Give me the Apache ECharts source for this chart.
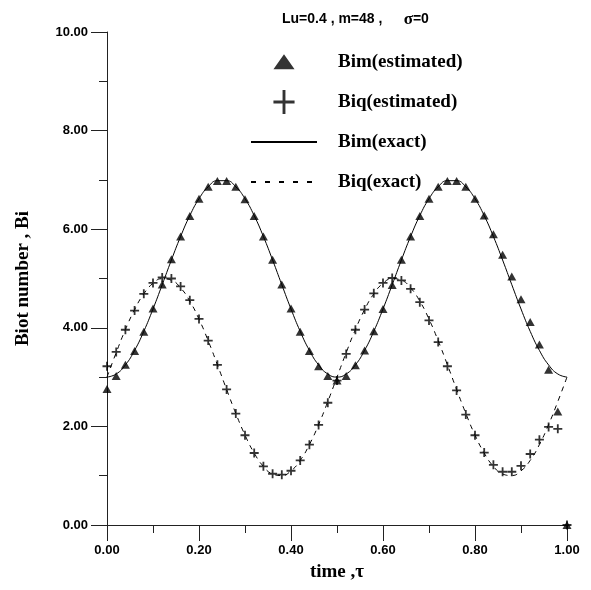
<!DOCTYPE html>
<html>
<head>
<meta charset="utf-8">
<script src="https://cdn.jsdelivr.net/npm/echarts@6/dist/echarts.min.js"></script>
<style>
  html, body { margin: 0; padding: 0; background: #fff; }
  #chart { width: 591px; height: 590px; }
</style>
</head>
<body>
<div id="chart"></div>
<script>
const chartDom = document.getElementById("chart");
let myChart = echarts.init(chartDom);

/** time steps */
const timeVals = [0.00, 0.02, 0.04, 0.06, 0.08, 0.10, 0.12, 0.14, 0.16, 0.18,
  0.20, 0.22, 0.24, 0.26, 0.28, 0.30, 0.32, 0.34, 0.36, 0.38,
  0.40, 0.42, 0.44, 0.46, 0.48, 0.50, 0.52, 0.54, 0.56, 0.58,
  0.60, 0.62, 0.64, 0.66, 0.68, 0.70, 0.72, 0.74, 0.76, 0.78,
  0.80, 0.82, 0.84, 0.86, 0.88, 0.90, 0.92, 0.94, 0.96, 0.98, 1.00];

/** exact curves */
const bimExact = [3.000, 3.063, 3.247, 3.542, 3.928, 4.382, 4.874, 5.375, 5.852, 6.275,
  6.618, 6.860, 6.984, 6.984, 6.860, 6.618, 6.275, 5.852, 5.375, 4.874,
  4.382, 3.928, 3.542, 3.247, 3.063, 3.000, 3.063, 3.247, 3.542, 3.928,
  4.382, 4.874, 5.375, 5.852, 6.275, 6.618, 6.860, 6.984, 6.984, 6.860,
  6.618, 6.275, 5.852, 5.375, 4.874, 4.382, 3.928, 3.542, 3.247, 3.063, 3.000];

const biqExact = [3.000, 3.497, 3.964, 4.369, 4.689, 4.902, 4.996, 4.965, 4.810, 4.541,
  4.176, 3.736, 3.251, 2.749, 2.264, 1.824, 1.459, 1.190, 1.035, 1.004,
  1.098, 1.311, 1.631, 2.036, 2.503, 3.000, 3.497, 3.964, 4.369, 4.689,
  4.902, 4.996, 4.965, 4.810, 4.541, 4.176, 3.736, 3.251, 2.749, 2.264,
  1.824, 1.459, 1.190, 1.035, 1.004, 1.098, 1.311, 1.631, 2.036, 2.503, 3.000];

/** estimated values */
const bimEst = [2.76, 3.02, 3.25, 3.53, 3.92, 4.39, 4.88, 5.39, 5.85, 6.27,
  6.62, 6.86, 6.98, 6.98, 6.86, 6.61, 6.27, 5.85, 5.38, 4.88,
  4.39, 3.92, 3.53, 3.22, 3.02, 2.93, 3.02, 3.24, 3.54, 3.93,
  4.38, 4.87, 5.38, 5.85, 6.27, 6.62, 6.86, 6.98, 6.98, 6.86,
  6.62, 6.28, 5.90, 5.48, 5.04, 4.58, 4.12, 3.66, 3.15, 2.30, 0.00];

const biqEst = [3.22, 3.51, 3.96, 4.35, 4.69, 4.91, 5.02, 5.00, 4.84, 4.56,
  4.18, 3.74, 3.25, 2.75, 2.26, 1.82, 1.46, 1.19, 1.04, 1.02,
  1.10, 1.31, 1.63, 2.03, 2.48, 2.93, 3.47, 3.96, 4.37, 4.70,
  4.91, 5.01, 4.96, 4.79, 4.52, 4.15, 3.71, 3.22, 2.73, 2.24,
  1.82, 1.47, 1.22, 1.08, 1.08, 1.20, 1.44, 1.73, 1.99, 1.95, 0.00];

const yTicks = [0, 2, 4, 6, 8, 10];

const plusPath = "path://M4,0H6V4H10V6H6V10H4V6H0V4H4Z";
const plusIcon = "path://M9.5,0H12.5V11H22V14H12.5V25H9.5V14H0V11H9.5Z";
const triIcon = "path://M11,0L11.01,0L11,0.01ZM0,20L11,4.5L22,20ZM11,25L11.01,25L11,24.99Z";

function pairs(xs, ys) {
  return xs.map((x, i) => [x, ys[i]]);
}

const serif = "'Liberation Serif', 'Times New Roman', serif";
const sans = "'Liberation Sans', Arial, sans-serif";

let option = {
  animation: false,
  backgroundColor: "#fff",
  title: {
    left: 277,
    top: 6,
    text: "{a|Lu=0.4 , m=48 ,}{s|     σ}{a|=0}",
    textStyle: {
      rich: {
        a: { fontFamily: sans, fontWeight: "bold", fontSize: 14, color: "#000" },
        s: { fontFamily: serif, fontSize: 17, color: "#000" }
      }
    }
  },
  legend: {
    orient: "vertical",
    left: 245,
    top: 43,
    itemWidth: 66,
    itemHeight: 24,
    itemGap: 12,
    selectedMode: false,
    textStyle: {
      fontFamily: serif,
      fontWeight: "bold",
      fontSize: 19,
      lineHeight: 28,
      color: "#000",
      padding: [0, 0, 0, 16]
    },
    data: [
      { name: "Bim(estimated)", icon: triIcon },
      { name: "Biq(estimated)", icon: plusIcon },
      { name: "Bim(exact)", itemStyle: { opacity: 0 } },
      { name: "Biq(exact)", itemStyle: { opacity: 0 }, lineStyle: { type: [5, 9] } }
    ]
  },
  grid: {
    left: 107,
    right: 24,
    top: 32,
    bottom: 65,
    outerBoundsMode: "none"
  },
  xAxis: {
    type: "value",
    min: 0,
    max: 1,
    interval: 0.2,
    name: "time ,τ",
    nameLocation: "middle",
    nameGap: 38,
    nameTextStyle: { fontFamily: serif, fontWeight: "bold", fontSize: 19, color: "#000" },
    axisLine: { onZero: false, lineStyle: { color: "#222", width: 1 } },
    axisTick: { length: 16, lineStyle: { color: "#222" } },
    minorTick: { show: true, splitNumber: 2, length: 8, lineStyle: { color: "#222" } },
    axisLabel: {
      margin: 19,
      fontFamily: sans,
      fontWeight: "bold",
      fontSize: 13,
      color: "#000",
      formatter: (v) => v.toFixed(2)
    },
    splitLine: { show: false }
  },
  yAxis: {
    type: "value",
    min: yTicks[0],
    max: yTicks[yTicks.length - 1],
    interval: 2,
    name: "Biot number , Bi",
    nameLocation: "middle",
    nameGap: 74,
    nameTextStyle: { fontFamily: serif, fontWeight: "bold", fontSize: 19, color: "#000" },
    axisLine: { show: true, onZero: false, lineStyle: { color: "#222", width: 1 } },
    axisTick: { show: true, length: 16, lineStyle: { color: "#222" } },
    minorTick: { show: true, splitNumber: 2, length: 8, lineStyle: { color: "#222" } },
    axisLabel: {
      margin: 19,
      fontFamily: sans,
      fontWeight: "bold",
      fontSize: 13,
      color: "#000",
      formatter: (v) => v.toFixed(2)
    },
    splitLine: { show: false }
  },
  series: [
    {
      name: "Bim(estimated)",
      type: "scatter",
      symbol: "triangle",
      symbolSize: [9, 8],
      itemStyle: { color: "#000" },
      clip: false,
      z: 5,
      data: pairs(timeVals, bimEst)
    },
    {
      name: "Biq(estimated)",
      type: "scatter",
      symbol: plusPath,
      symbolSize: 9,
      itemStyle: { color: "#000" },
      clip: false,
      z: 6,
      data: pairs(timeVals, biqEst)
    },
    {
      name: "Bim(exact)",
      type: "line",
      smooth: true,
      showSymbol: false,
      symbol: "none",
      lineStyle: { color: "#000", width: 1 },
      itemStyle: { color: "#000" },
      z: 3,
      data: pairs(timeVals, bimExact)
    },
    {
      name: "Biq(exact)",
      type: "line",
      smooth: true,
      showSymbol: false,
      symbol: "none",
      lineStyle: { color: "#000", width: 1, type: [5, 5] },
      itemStyle: { color: "#000" },
      z: 3,
      data: pairs(timeVals, biqExact)
    }
  ]
};

option && myChart.setOption(option);
</script>
</body>
</html>
